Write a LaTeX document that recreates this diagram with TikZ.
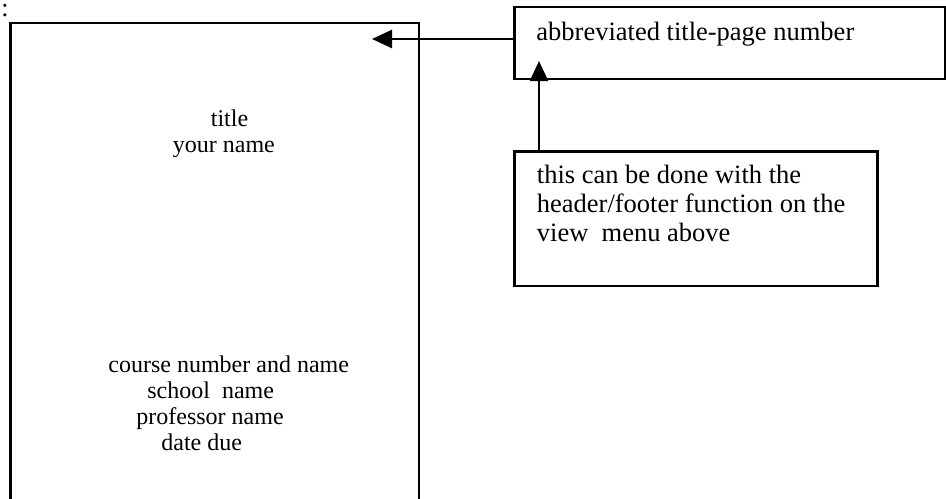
\documentclass[tikz,border=0pt]{standalone}
\usepackage{fontspec}
\setmainfont{Liberation Serif}
\usetikzlibrary{arrows.meta}
\begin{document}
\begin{tikzpicture}[x=0.5pt,y=-0.5pt,
  frame/.style={draw=black,line width=1.3pt,inner sep=0pt,outer sep=0pt},
  lefttext/.style={anchor=base west,inner sep=0pt,font=\fontsize{12}{13}\selectfont},
  righttext/.style={anchor=base west,inner sep=0pt,font=\fontsize{13.25}{14.5}\selectfont},
  conn/.style={line width=1.3pt,-{Triangle[length=10pt,width=9pt]}}]
\useasboundingbox (0,0) rectangle (946,498);
\fill[white] (0,0) rectangle (946,498);
\begin{scope}
\clip (0,0) rectangle (946,498);
% page outline (bottom lies below the picture edge)
\node[frame,minimum width=204.25pt,minimum height=260pt,anchor=north west] (page) at (10.5,23) {};
\end{scope}
\node[anchor=base west,inner sep=0pt,font=\fontsize{13}{14}\selectfont] (colon) at (1,17) {:};
% page texts
\node[lefttext] (title) at (210.5,126) {title};
\node[lefttext] (yname) at (172.5,152) {your name};
\node[lefttext] (course) at (108,372) {course number and name};
\node[lefttext] (school) at (147,398) {school\ \ name};
\node[lefttext] (prof) at (136,424) {professor name};
\node[lefttext] (date) at (161,450) {date due};
% callout boxes
\node[frame,minimum width=215.25pt,minimum height=36pt,anchor=north west] (abbr) at (514.5,7) {};
\node[righttext] (abbrtext) at (536,40) {abbreviated title-page number};
\node[frame,minimum width=181.5pt,minimum height=67.25pt,anchor=north west] (note) at (514.5,151.5) {};
\node[righttext] (n1) at (536.5,183) {this can be done with the};
\node[righttext] (n2) at (536.5,212) {header/footer function on the};
\node[righttext] (n3) at (536.5,241) {view\ \ menu above};
% connectors
\coordinate (tipA) at (372,39);
\coordinate (tipB) at (539,61);
\draw[conn] (abbr.west |- tipA) -- (tipA);
\draw[conn] (note.north -| tipB) -- (tipB);
\end{tikzpicture}
\end{document}
